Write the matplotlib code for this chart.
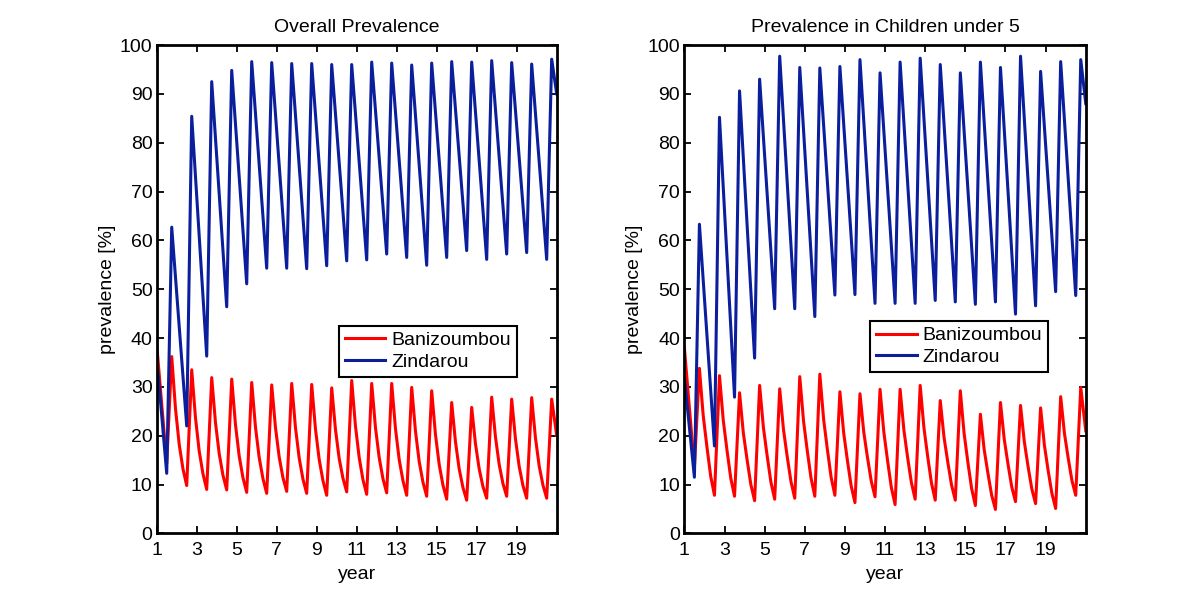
"""
Malaria prevalence, Banizoumbou vs Zindarou (two panels)
"""
import numpy as np
import matplotlib
matplotlib.use('Agg')
import matplotlib.pyplot as plt

plt.rcParams['font.family'] = ['Liberation Sans', 'DejaVu Sans']

# season timing (years): low point before the rainy season, then the peak
trough_years = np.arange(1.5, 21.0, 1.0)
peak_years = np.arange(1.75, 21.0, 1.0)
# points on the way down from each peak to the next low (red curves)
q1_years = np.arange(1.9375, 21.0, 1.0)[:19]
mid_years = np.arange(2.125, 21.0, 1.0)
q3_years = np.arange(2.3125, 21.0, 1.0)
start_year, end_year = 1.0, 21.0

# --- Overall prevalence ---
red_all_start, red_all_end = 38.6, 20.1
red_all_peak = [36.2, 33.5, 31.9, 31.6, 30.9, 30.4, 30.7, 30.5, 29.8, 31.3,
                30.7, 30.7, 29.9, 29.2, 26.8, 25.8, 27.9, 27.5, 27.8, 27.5]
red_all_trough = [14.3, 9.8, 9.0, 8.9, 8.4, 8.2, 8.6, 8.2, 7.8, 8.5,
                  8.0, 8.3, 7.8, 7.6, 7.0, 6.8, 7.2, 7.6, 7.2, 7.2]
red_all_q1 = [25.6, 23.7, 22.7, 22.3, 21.8, 21.7, 21.7, 21.4, 21.3, 22.0,
              21.7, 21.5, 21.0, 20.3, 18.8, 18.4, 19.8, 19.4, 19.6]
red_all_mid = [18.2, 16.8, 16.3, 15.8, 15.5, 15.6, 15.4, 15.1, 15.3, 15.5,
               15.5, 15.1, 14.7, 14.1, 13.2, 13.2, 14.1, 13.7, 13.8]
red_all_q3 = [13.2, 12.2, 11.9, 11.4, 11.2, 11.4, 11.1, 10.8, 11.3, 11.0,
              11.2, 10.8, 10.5, 9.9, 9.4, 9.6, 10.2, 9.8, 9.9]

blue_all_start, blue_all_end = 36.0, 90.0
blue_all_peak = [62.7, 85.4, 92.5, 94.8, 96.6, 96.4, 96.2, 96.2, 96.0, 96.0,
                 96.5, 96.3, 95.9, 96.3, 96.6, 96.5, 96.8, 96.4, 96.1, 97.1]
blue_all_trough = [12.3, 22.0, 36.3, 46.4, 51.1, 54.3, 54.3, 54.2, 54.8, 55.8,
                   56.0, 57.2, 56.5, 54.9, 56.5, 57.9, 56.1, 57.2, 57.5, 56.1]

# --- Children under 5 ---
red_u5_start, red_u5_end = 38.0, 21.0
red_u5_peak = [33.8, 32.3, 28.8, 30.3, 29.6, 32.1, 32.6, 29.0, 28.6, 29.5,
               29.5, 30.3, 27.2, 29.2, 24.4, 26.8, 26.2, 25.7, 28.0, 29.9]
red_u5_trough = [13.5, 7.8, 7.6, 6.7, 7.0, 7.2, 7.6, 7.8, 6.3, 7.5,
                 5.9, 7.0, 6.8, 6.8, 5.7, 4.9, 6.5, 6.1, 5.1, 7.8]
red_u5_q1 = [24.2, 23.2, 20.6, 21.7, 21.3, 23.0, 23.4, 20.6, 20.8, 20.8,
             21.2, 21.6, 19.7, 20.5, 17.2, 19.3, 18.8, 18.1, 20.5]
red_u5_mid = [17.7, 17.0, 15.1, 15.9, 15.7, 16.9, 17.2, 14.9, 15.5, 14.9,
              15.5, 15.7, 14.6, 14.6, 12.3, 14.2, 13.7, 12.9, 15.4]
red_u5_q3 = [11.7, 11.3, 10.0, 10.5, 10.6, 11.3, 11.5, 9.7, 10.7, 9.4,
             10.4, 10.3, 9.9, 9.2, 7.8, 9.5, 9.1, 8.2, 10.8]

blue_u5_start, blue_u5_end = 32.0, 88.0
blue_u5_peak = [63.3, 85.2, 90.6, 93.0, 97.7, 95.4, 95.3, 95.6, 97.0, 94.3,
                96.5, 97.3, 96.0, 94.3, 96.5, 95.4, 97.7, 94.6, 96.6, 97.0]
blue_u5_trough = [11.5, 17.9, 27.9, 35.9, 46.0, 46.0, 44.4, 48.8, 48.9, 47.1,
                  47.1, 47.1, 47.7, 47.4, 46.9, 47.4, 44.9, 46.6, 49.5, 48.7]

RED = '#ff0000'
BLUE = '#0b1f9c'


def series(start, trough, peak, end, extra=()):
    xs = [start_year] + list(trough_years) + list(peak_years) + [end_year]
    ys = [start] + list(trough) + list(peak) + [end]
    for yrs, vals in extra:
        xs += list(yrs)
        ys += list(vals)
    xs = np.array(xs)
    ys = np.array(ys)
    order = np.argsort(xs)
    return xs[order], ys[order]


def panel(ax, title, red, blue, leg_anchor):
    ax.plot(*red, color=RED, lw=2.2, label='Banizoumbou')
    ax.plot(*blue, color=BLUE, lw=2.2, label='Zindarou')
    ax.set_xlim(1, 21)
    ax.set_ylim(0, 100)
    ax.set_xticks(np.arange(1, 20, 2))
    ax.set_yticks(np.arange(0, 101, 10))
    ax.tick_params(direction='in', top=True, right=True, length=5,
                   width=1.3, labelsize=14)
    ax.tick_params(axis='x', pad=6)
    ax.tick_params(axis='y', pad=3)
    for s in ax.spines.values():
        s.set_linewidth(2)
    ax.set_title(title, fontsize=14, pad=9)
    ax.set_xlabel('year', fontsize=14, labelpad=5)
    ax.set_ylabel('prevalence [%]', fontsize=14, labelpad=3)
    leg = ax.legend(loc='lower left', bbox_to_anchor=leg_anchor,
                    borderaxespad=0, fancybox=False, edgecolor='black',
                    fontsize=14, handlelength=2.1, handletextpad=0.3,
                    borderpad=0.3, labelspacing=0.2, framealpha=1)
    leg.get_frame().set_linewidth(1.5)


fig = plt.figure(figsize=(12, 6), dpi=100)
ax1 = fig.add_axes([0.1306, 0.111, 0.3333, 0.814])
ax2 = fig.add_axes([0.5703, 0.111, 0.3345, 0.814])

panel(ax1, 'Overall Prevalence',
      series(red_all_start, red_all_trough, red_all_peak, red_all_end,
             [(q1_years, red_all_q1), (mid_years, red_all_mid), (q3_years, red_all_q3)]),
      series(blue_all_start, blue_all_trough, blue_all_peak, blue_all_end),
      (0.455, 0.321))
panel(ax2, 'Prevalence in Children under 5',
      series(red_u5_start, red_u5_trough, red_u5_peak, red_u5_end,
             [(q1_years, red_u5_q1), (mid_years, red_u5_mid), (q3_years, red_u5_q3)]),
      series(blue_u5_start, blue_u5_trough, blue_u5_peak, blue_u5_end),
      (0.4626, 0.331))

plt.savefig('out.png', dpi=100)
